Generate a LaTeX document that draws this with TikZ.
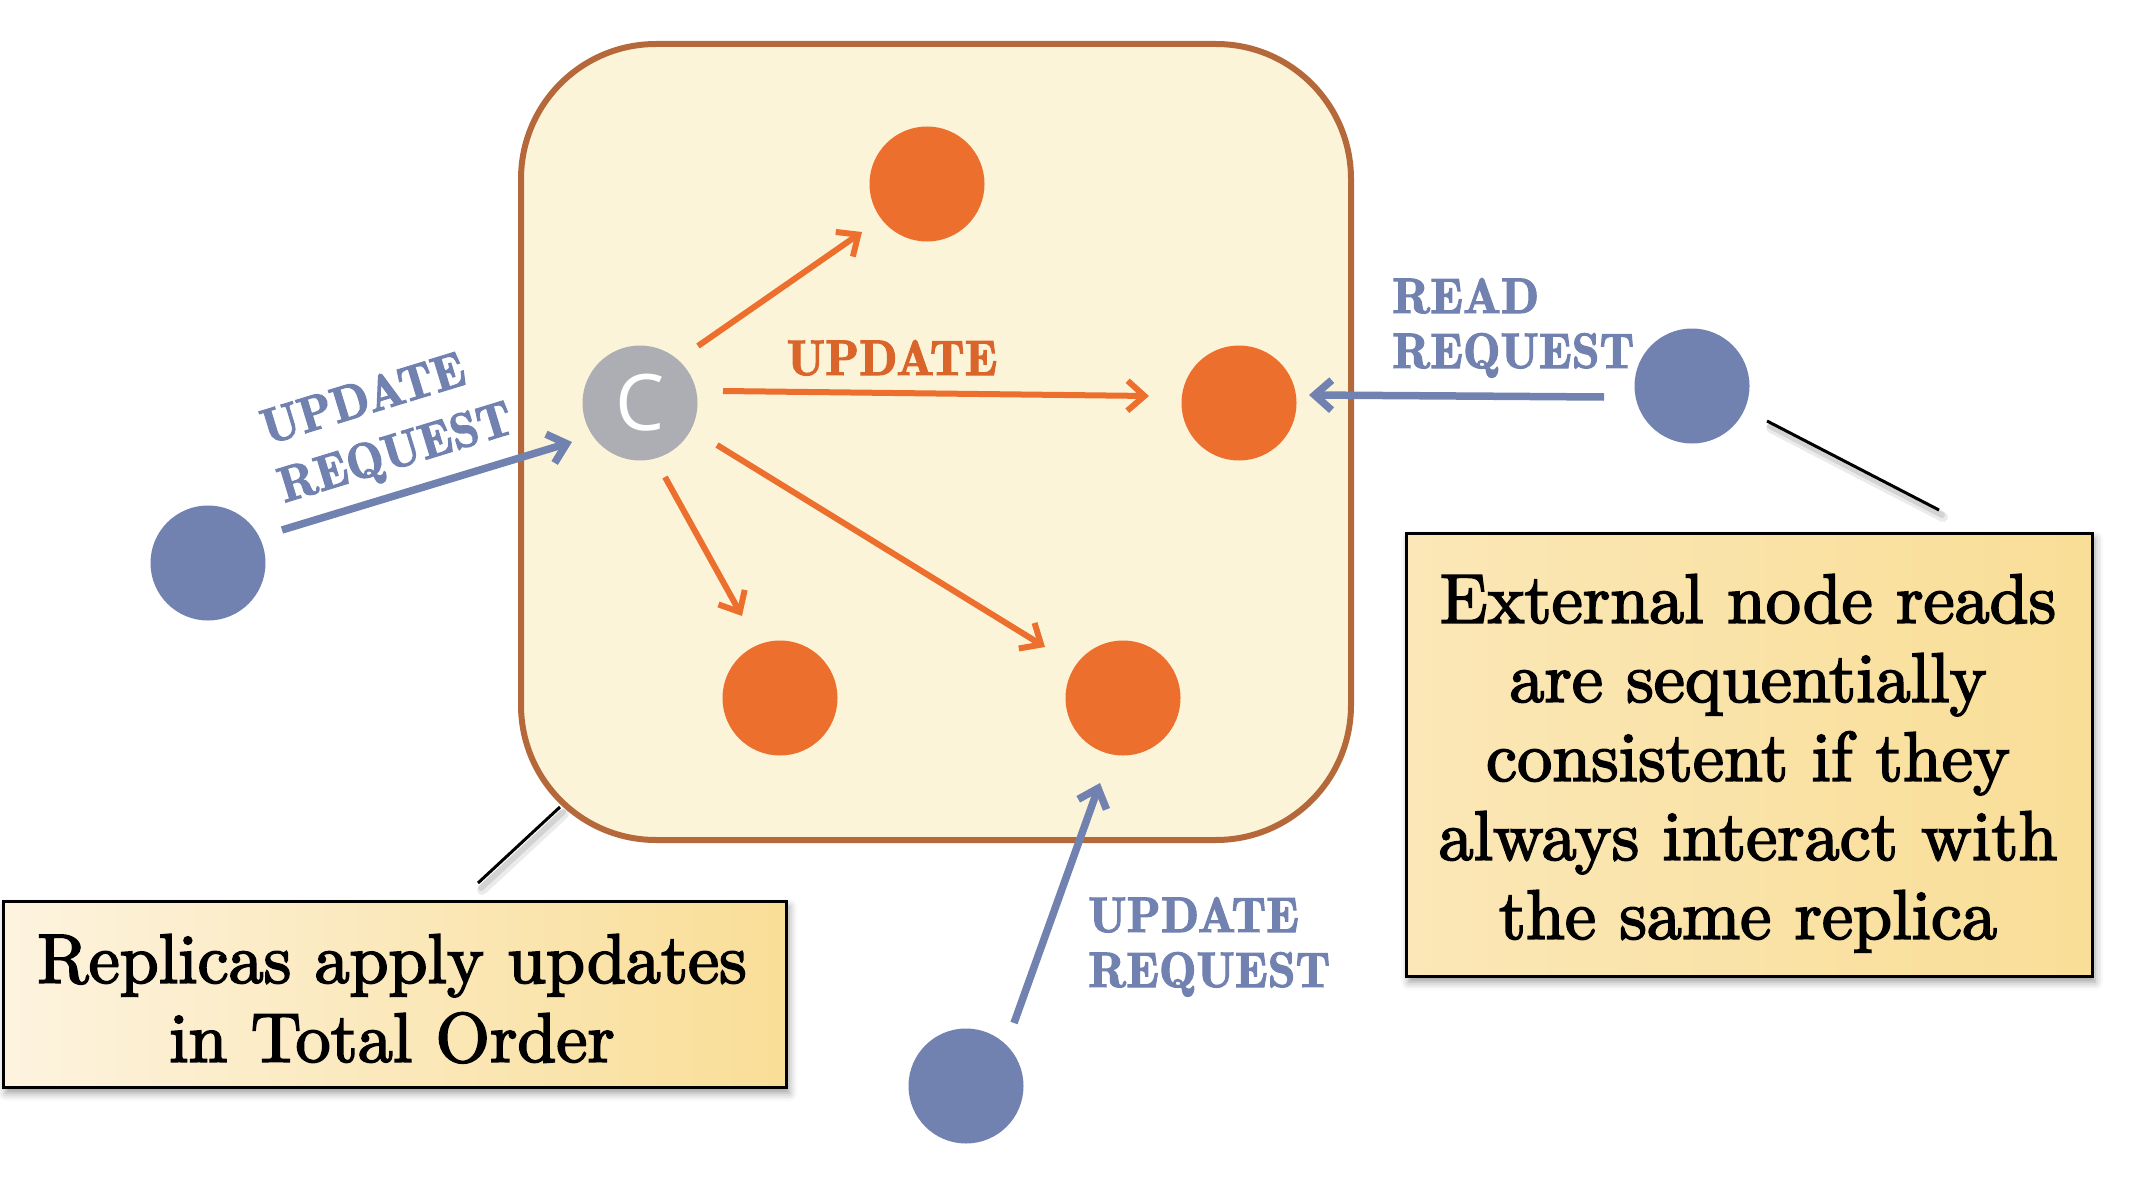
\documentclass[tikz,border=0pt]{standalone}
\usepackage{fontspec}
\newfontfamily\bodyfont{lmroman10-regular}[Extension=.otf, FakeBold=2.5]
\newfontfamily\demifont{lmromandemi10-regular}[Extension=.otf, FakeBold=2]
\newfontfamily\csans{Open Sans}
\usetikzlibrary{arrows.meta,calc,shadows.blur}
\definecolor{cream}{HTML}{FCF4D9}
\definecolor{brownb}{HTML}{B5693A}
\definecolor{orng}{HTML}{EC6F2D}
\definecolor{orngtxt}{HTML}{DA652B}
\definecolor{blu}{HTML}{7282B0}
\definecolor{gry}{HTML}{ADAEB3}
\definecolor{notelight}{HTML}{FDF3DF}
\definecolor{notegold}{HTML}{F9DE97}
\begin{document}
\begin{tikzpicture}[x=1pt,y=-1pt,
  dot/.style={circle, inner sep=0, minimum size=115},
  rep/.style={dot, fill=orng},
  ext/.style={dot, fill=blu},
  oarr/.style={draw=orng, line width=6, -{Straight Barb[length=17pt,width=30pt]}},
  barr/.style={draw=blu, line width=7.5, -{Straight Barb[length=17pt,width=30pt]}},
  blabel/.style={text=blu, font=\demifont\fontsize{50}{55}\selectfont, inner sep=0, anchor=base west},
  note/.style={draw=black, line width=3, inner sep=0, blur shadow={shadow xshift=3pt,shadow yshift=-6pt,shadow blur radius=8pt}},
  notetext/.style={font=\bodyfont\fontsize{70}{79}\selectfont, align=center, inner sep=0, anchor=north},
  pointer/.style={draw=black, line width=3},
  pshadow/.style={draw=black, opacity=0.08, line width=10, line cap=round},
]
\path[use as bounding box] (0,0) rectangle (2134,1188);

% replica group
\draw[fill=cream, draw=brownb, line width=6, rounded corners=135] (521,44) rectangle (1351,840);

% nodes
\node[dot, fill=gry, text=white, font=\csans\fontsize{78}{78}\selectfont] (C) at (640,403) {C};
\node[rep] (T) at (927,184) {};
\node[rep] (R) at (1239,403) {};
\node[rep] (BL) at (780,698) {};
\node[rep] (BR) at (1123,698) {};
\node[ext] (LB) at (208,563) {};
\node[ext] (RB) at (1692,386) {};
\node[ext] (DB) at (966,1086) {};

% update arrows
\draw[oarr] ($(C)+(58,-57)$) -- ($(T)+(-65,48)$);
\draw[oarr] ($(C)+(83,-12)$) -- ($(R)+(-90,-7)$);
\draw[oarr] ($(C)+(25,74)$) -- ($(BL)+(-38,-82)$);
\draw[oarr] ($(C)+(77,42)$) -- ($(BR)+(-78,-51)$);
\node[text=orngtxt, font=\demifont\fontsize{50}{55}\selectfont, inner sep=0, anchor=base] (U) at (892,375) {UPDATE};

% requests
\draw[barr] ($(LB)+(74,-33)$) -- ($(C)+(-68,39)$);
\draw[barr] ($(RB)+(-88,11)$) -- ($(R)+(70,-8)$);
\draw[barr] ($(DB)+(48,-63)$) -- ($(BR)+(-23,85)$);

\node[blabel, rotate=17] (ul1) at (267,445) {UPDATE};
\node[blabel, rotate=17] (ul2) at (284,503) {REQUEST};
\node[blabel] (rl1) at (1392,313) {READ};
\node[blabel] (rl2) at (1392,368) {REQUEST};
\node[blabel] (dl1) at (1088,932) {UPDATE};
\node[blabel] (dl2) at (1088,987) {REQUEST};

% callout pointers
\coordinate (p1a) at (560,807);
\coordinate (p1b) at (478,883);
\coordinate (p2a) at (1767,421);
\coordinate (p2b) at (1939,510);
\draw[pshadow] ($(p1a)+(4,7)$) -- ($(p1b)+(4,7)$);
\draw[pshadow, line width=6, opacity=0.1] ($(p1a)+(3,5)$) -- ($(p1b)+(3,5)$);
\draw[pshadow] ($(p2a)+(4,7)$) -- ($(p2b)+(4,7)$);
\draw[pshadow, line width=6, opacity=0.1] ($(p2a)+(3,5)$) -- ($(p2b)+(3,5)$);
\draw[pointer] (p1a) -- (p1b);
\draw[pointer] (p2a) -- (p2b);

% notes
\node[note, minimum width=783, minimum height=186, left color=notelight, middle color=notegold!85!notelight, right color=notegold] (N1) at (394.5,994) {};
\node[notetext] (N1t) at (392,934) {Replicas apply updates\\in Total Order};
\node[note, minimum width=686, minimum height=443, left color=notegold!55!notelight, middle color=notegold, right color=notegold] (N2) at (1749,754.5) {};
\node[notetext] (N2t) at (1748,574) {External node reads\\are sequentially\\consistent if they\\always interact with\\the same replica};
\end{tikzpicture}
\end{document}
